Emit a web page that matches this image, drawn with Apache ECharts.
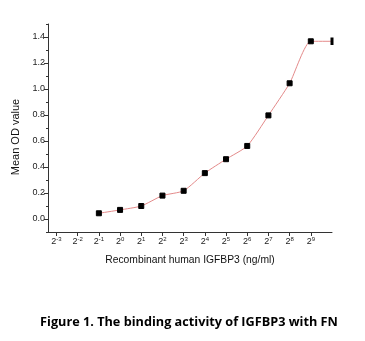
<!DOCTYPE html>
<html>
<head>
<meta charset="utf-8">
<script src="https://cdn.jsdelivr.net/npm/echarts@6/dist/echarts.min.js"></script>
<style>
  html, body { margin: 0; padding: 0; background: #fff; }
  #chart { width: 365px; height: 341px; }
</style>
</head>
<body>
<div id="chart"></div>
<script>
// Concentration exponents (log2 of ng/ml) and mean OD readings
const exponents = [-1, 0, 1, 2, 3, 4, 5, 6, 7, 8, 9, 10];
const odValues = [0.044, 0.07, 0.10, 0.18, 0.217, 0.353, 0.46, 0.562, 0.797, 1.044, 1.367, 1.367];

// Axis tick positions
const xTicks = [-3, -2, -1, 0, 1, 2, 3, 4, 5, 6, 7, 8, 9];
const yMajor = [0, 0.2, 0.4, 0.6, 0.8, 1.0, 1.2, 1.4];
const yMinor = [-0.1, 0.1, 0.3, 0.5, 0.7, 0.9, 1.1, 1.3, 1.5];

const FONT = 'Liberation Sans, Arial, sans-serif';
const chart = echarts.init(document.getElementById('chart'), null, { renderer: 'canvas' });

const points = exponents.map((e, i) => {
  const item = { value: [e, odValues[i]] };
  // the last marker sits on the axis edge and is cut down to a sliver
  if (e === 10) item.symbolSize = [2, 5];
  return item;
});

chart.setOption({
  animation: false,
  backgroundColor: '#fff',
  title: {
    text: 'Figure 1. The binding activity of IGFBP3 with FN',
    left: 184,
    textAlign: 'center',
    top: 311,
    textStyle: { fontFamily: 'Open Sans, sans-serif', fontWeight: 'bold', fontSize: 12.7, color: '#000' }
  },
  grid: { left: 48, right: 33, top: 24, bottom: 109, containLabel: false },
  xAxis: {
    type: 'value',
    min: -3.4,
    max: 10,
    splitLine: { show: false },
    axisLine: { show: true, onZero: false, lineStyle: { color: '#333', width: 1 } },
    axisTick: { show: true, customValues: xTicks, length: 4, inside: false, lineStyle: { color: '#333' } },
    axisLabel: {
      customValues: xTicks,
      margin: 4,
      fontFamily: FONT,
      formatter: v => '{b|2}{s|' + v + '}',
      rich: {
        b: { fontSize: 9, color: '#222', fontFamily: FONT },
        s: { fontSize: 6, color: '#222', fontFamily: FONT, padding: [0, 0, 6, 0] }
      }
    },
    name: 'Recombinant human IGFBP3 (ng/ml)',
    nameLocation: 'middle',
    nameGap: 23,
    nameTextStyle: { fontFamily: FONT, fontSize: 10.3, color: '#111' }
  },
  yAxis: [
    {
      type: 'value',
      min: -0.1,
      max: 1.5,
      splitLine: { show: false },
      axisLine: { show: true, onZero: false, lineStyle: { color: '#333', width: 1 } },
      axisTick: { show: true, customValues: yMajor, length: 4, lineStyle: { color: '#333' } },
      axisLabel: {
        customValues: yMajor,
        margin: 3,
        fontFamily: FONT,
        fontSize: 9,
        color: '#222',
        formatter: v => v.toFixed(1)
      },
      name: 'Mean OD value',
      nameLocation: 'middle',
      nameGap: 21,
      nameTextStyle: { fontFamily: FONT, fontSize: 11, color: '#111', padding: [0, 18, 0, 0] }
    },
    {
      type: 'value',
      position: 'left',
      offset: 0,
      min: -0.1,
      max: 1.5,
      splitLine: { show: false },
      axisLine: { show: false, onZero: false },
      axisTick: { show: true, customValues: yMinor, length: 2, lineStyle: { color: '#333' } },
      axisLabel: { show: false }
    }
  ],
  series: [{
    type: 'line',
    data: points,
    smooth: 0.2,
    clip: false,
    symbol: 'rect',
    symbolSize: 5,
    itemStyle: { color: '#000', borderColor: '#000' },
    lineStyle: { color: '#e48a8a', width: 1 }
  }]
});
</script>
</body>
</html>
